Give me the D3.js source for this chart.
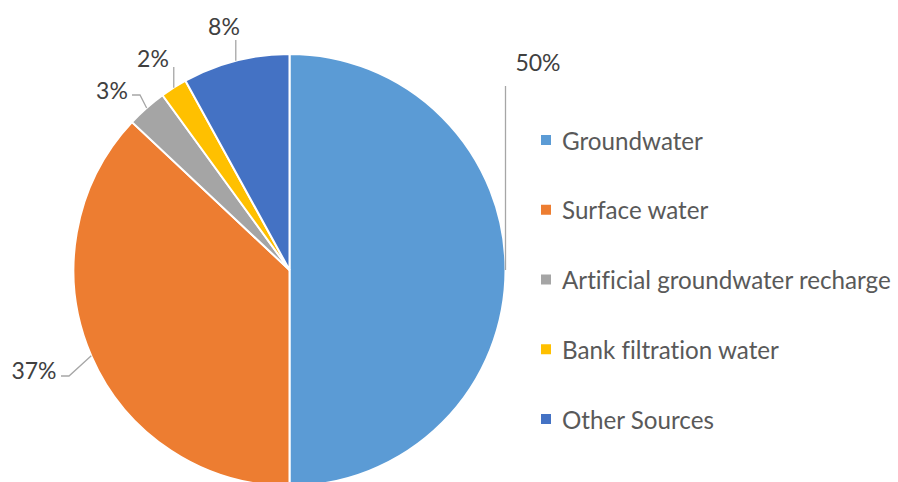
<!DOCTYPE html>
<html>
<head>
<meta charset="utf-8">
<script src="https://cdn.jsdelivr.net/npm/d3@7"></script>
<style>
  body { margin: 0; background: #fff; }
  text { font-family: Lato, "Open Sans", sans-serif; fill: #595959; font-variant-ligatures: none; }
</style>
</head>
<body>
<script>
// chart data
const categories = ['Groundwater', 'Surface water', 'Artificial groundwater recharge', 'Bank filtration water', 'Other Sources']
const shares = [50, 37, 3, 2, 8]
const colors = ['#5B9BD5', '#ED7D31', '#A5A5A5', '#FFC000', '#4472C4']

// label placement (text centre, and the leader line bend) per slice
const labelPos = [
    { tx: 538, ty: 62, bend: null, lineEndY: 86 },
    { tx: 34, ty: 370, bend: [69, 376], start: [61, 376] },
    { tx: 112, ty: 90, bend: [140, 95], start: [132, 95] },
    { tx: 153, ty: 58, bend: null, lineEndY: 67 },
    { tx: 224, ty: 26, bend: null, lineEndY: 40 }
]

const m = { width: 898, height: 482 }
const cx = 289.5, cy = 270, r = 216

const svg = d3.select('body').append('svg')
    .attr('width', m.width)
    .attr('height', m.height)

const pie = d3.pie().sort(null).value(d => d)
const arcs = pie(shares)

const arc = d3.arc().innerRadius(0).outerRadius(r)

const g = svg.append('g').attr('transform', `translate(${cx},${cy})`)

g.selectAll('path')
    .data(arcs)
    .enter()
    .append('path')
        .attr('d', arc)
        .attr('fill', (d, i) => colors[i])
        .attr('stroke', '#fff')
        .attr('stroke-width', 2)

// leader lines + labels
arcs.forEach(function(d, i) {
    const mid = (d.startAngle + d.endAngle) / 2
    const px = cx + r * Math.sin(mid)
    const py = cy - r * Math.cos(mid)
    const lp = labelPos[i]
    let pts
    if (lp.bend) {
        pts = [lp.start, lp.bend, [px, py]]
    } else {
        pts = [[px, lp.lineEndY], [px, py]]
    }
    svg.append('path')
        .attr('d', d3.line()(pts))
        .attr('fill', 'none')
        .attr('stroke', '#A6A6A6')
        .attr('stroke-width', 1.3)

    svg.append('text')
        .attr('x', lp.tx)
        .attr('y', lp.ty)
        .attr('text-anchor', 'middle')
        .attr('dominant-baseline', 'central')
        .attr('font-size', '23px')
        .style('fill', '#404040')
        .text(shares[i] + '%')
})

// legend
const legY = d3.scalePoint().domain(categories).range([140, 419])

const leg = svg.selectAll('.leg')
    .data(categories)
    .enter()
    .append('g')
        .attr('class', 'leg')
        .attr('transform', d => `translate(541,${legY(d)})`)

leg.append('rect')
    .attr('x', 0)
    .attr('y', -5)
    .attr('width', 10)
    .attr('height', 10)
    .attr('fill', (d, i) => colors[i])

leg.append('text')
    .attr('x', 21)
    .attr('y', 0)
    .attr('dominant-baseline', 'central')
    .attr('font-size', '24.2px')
    .text(d => d)
</script>
</body>
</html>
